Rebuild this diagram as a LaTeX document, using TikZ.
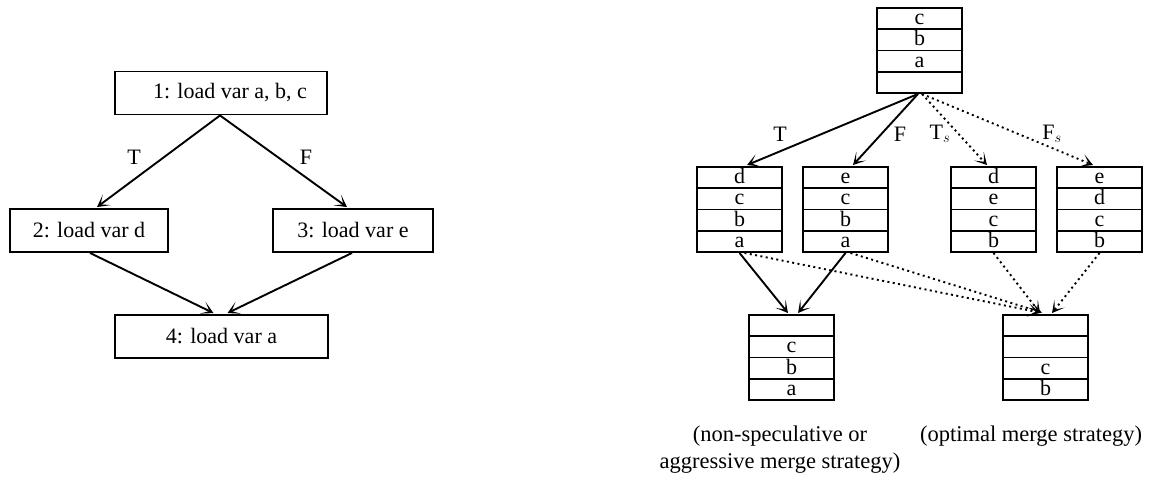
\documentclass[tikz,border=0pt]{standalone}
\usepackage{fontspec}
\setmainfont{Liberation Serif}
\usetikzlibrary{arrows.meta,calc}
\tikzset{
  box/.style={draw, line width=1.9pt, minimum height=43pt, inner sep=0pt, font=\fontsize{22}{24}\selectfont},
  cell/.style={draw, line width=1.9pt, minimum width=85pt, minimum height=21.25pt, inner sep=0pt, text height=15pt, text depth=3pt, font=\fontsize{22}{22}\selectfont},
  arr/.style={line width=1.9pt, -{Stealth[length=12pt,width=13pt,inset=7.5pt,fill=blue!15]}},
  darr/.style={arr, dash pattern=on 2pt off 3.4pt},
  lbl/.style={font=\fontsize{22}{22}\selectfont, inner sep=0pt},
}
\newcommand\cellstack[7]{%
  \node[cell] (#1-1) at (#2,#3+10.625) {#4};
  \node[cell] (#1-2) at (#2,#3+31.875) {#5};
  \node[cell] (#1-3) at (#2,#3+53.125) {#6};
  \node[cell] (#1-4) at (#2,#3+74.375) {#7};
}
\begin{document}
\begin{tikzpicture}[x=1pt,y=-1pt]
\useasboundingbox (0,0) rectangle (1150,477);
% left graph
\node[box, minimum width=212pt] (b1) at (221,93) {\hspace*{18pt}1: load var a, b, c};
\node[box, minimum width=158pt] (b2) at (89,230.5) {2: load var d};
\node[box, minimum width=160pt] (b3) at (353,230.5) {3: load var e};
\node[box, minimum width=213pt] (b4) at (221.5,336.5) {4: load var a};
\draw[arr] ([xshift=-1pt]b1.south) -- ([xshift=8pt,yshift=1pt]b2.north);
\draw[arr] ([xshift=-1pt]b1.south) -- ([xshift=-6pt,yshift=1pt]b3.north);
\draw[arr] ([xshift=1pt]b2.south) -- ([xshift=-8pt,yshift=1pt]b4.north);
\draw[arr] ([xshift=-1pt]b3.south) -- ([xshift=6pt,yshift=1pt]b4.north);
\node[lbl] (lT) at (134,157) {T};
\node[lbl] (lF) at (306,157) {F};
% right graph
\cellstack{top}{919.5}{8}{c}{b}{a}{}
\cellstack{sd}{739.5}{167}{d}{c}{b}{a}
\cellstack{se}{845.5}{167}{e}{c}{b}{a}
\cellstack{sds}{993.5}{167}{d}{e}{c}{b}
\cellstack{ses}{1099.5}{167}{e}{d}{c}{b}
\cellstack{ml}{791.5}{315}{}{c}{b}{a}
\cellstack{mr}{1045.5}{315}{}{}{c}{b}
\draw[arr] ([xshift=-1.5pt]top-4.south) -- ([xshift=7.5pt,yshift=1pt]sd-1.north);
\draw[arr] ([xshift=-1.5pt]top-4.south) -- ([xshift=7.5pt,yshift=1pt]se-1.north);
\draw[darr] ([xshift=2.5pt]top-4.south) -- ([xshift=-6.5pt,yshift=1pt]sds-1.north);
\draw[darr] ([xshift=2.5pt]top-4.south) -- ([xshift=-6.5pt,yshift=1pt]ses-1.north);
\draw[arr] (sd-4.south) -- ([xshift=-3.5pt,yshift=1pt]ml-1.north);
\draw[arr] (se-4.south) -- ([xshift=6.5pt,yshift=1pt]ml-1.north);
\draw[darr] ([xshift=5pt]sd-4.south) -- ([xshift=-5.5pt,yshift=1.5pt]mr-1.north);
\draw[darr] ([xshift=5pt]se-4.south) -- ([xshift=-3.5pt,yshift=1.5pt]mr-1.north);
\draw[darr] (sds-4.south) -- ([xshift=-5.5pt,yshift=1pt]mr-1.north);
\draw[darr] (ses-4.south) -- ([xshift=6.5pt,yshift=1pt]mr-1.north);
\node[lbl] (rT) at (780,134) {T};
\node[lbl] (rF) at (900,134) {F};
\node[lbl] (rTs) at (940,134) {T$_s$};
\node[lbl] (rFs) at (1052,134) {F$_s$};
\node[lbl, align=center, font=\fontsize{22.5}{27}\selectfont] (capl) at (780,450) {(non-speculative or\\aggressive merge strategy)};
\node[lbl, font=\fontsize{22.5}{27}\selectfont] (capr) at (1031,436) {(optimal merge strategy)};
\end{tikzpicture}
\end{document}
